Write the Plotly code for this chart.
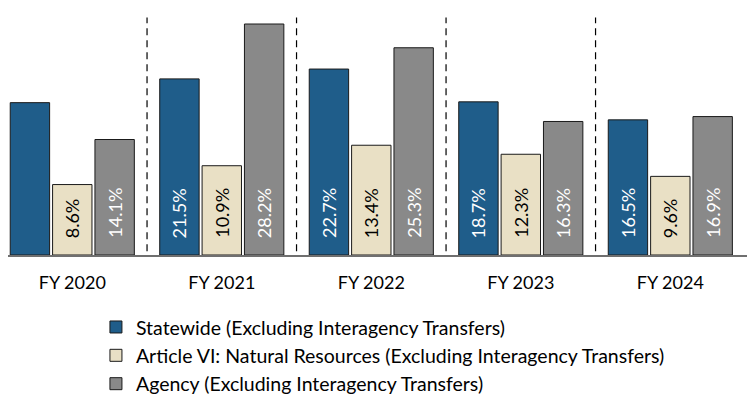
import plotly.graph_objects as go

categories = ["FY 2020", "FY 2021", "FY 2022", "FY 2023", "FY 2024"]
statewide = [18.6, 21.5, 22.7, 18.7, 16.5]
article_vi = [8.6, 10.9, 13.4, 12.3, 9.6]
agency = [14.1, 28.2, 25.3, 16.3, 16.9]
statewide_labels = ["", "21.5%", "22.7%", "18.7%", "16.5%"]
article_vi_labels = ["8.6%", "10.9%", "13.4%", "12.3%", "9.6%"]
agency_labels = ["14.1%", "28.2%", "25.3%", "16.3%", "16.9%"]
series_names = [
    "Statewide (Excluding Interagency Transfers)",
    "Article VI: Natural Resources (Excluding Interagency Transfers)",
    "Agency (Excluding Interagency Transfers)",
]

colors = ["#1F5D8A", "#E9E0C5", "#898989"]
text_colors = ["white", "black", "white"]
FONT = "Lato"

BARGAP = 0.15
fig = go.Figure()
series = [statewide, article_vi, agency]
labels = [statewide_labels, article_vi_labels, agency_labels]
for j, (vals, name) in enumerate(zip(series, series_names)):
    fig.add_trace(go.Bar(
        x=categories, y=vals, name=name,
        marker=dict(color=colors[j], line=dict(color="#1a1a1a", width=1)),
        legendgroup=f"g{j}",
        hoverinfo="skip",
    ))

slot = (1 - BARGAP) / 3
annotations = []
for j in range(3):
    off = (j - 1) * slot
    for i, t in enumerate(labels[j]):
        if not t:
            continue
        annotations.append(dict(
            x=i + off, y=0, xref="x", yref="y", text=t, showarrow=False,
            textangle=-90, yanchor="bottom", xanchor="center", yshift=15,
            font=dict(family=FONT, size=18, color=text_colors[j]),
        ))

shapes = []
for k in range(4):
    shapes.append(dict(
        type="line", xref="x", yref="y", x0=k + 0.5, x1=k + 0.5, y0=-1.0, y1=29.0,
        line=dict(color="black", width=1.2, dash="7px,5px"),
    ))

# page has an 8px body margin, so the figure is sized to fill the rest of the window
fig.update_layout(
    width=748, height=392,
    margin=dict(l=0, r=9, t=7, b=144.5, autoexpand=False),
    plot_bgcolor="white", paper_bgcolor="white",
    barmode="group", bargap=BARGAP, bargroupgap=0.07,
    xaxis=dict(
        type="category", range=[-0.43, 4.513], showgrid=False, automargin=False,
        showline=True, linecolor="#6f6f6f", linewidth=1.5,
        tickfont=dict(family=FONT, size=18, color="black"),
        ticks="", ticklabelstandoff=11,
    ),
    yaxis=dict(range=[0, 29.3], visible=False, showgrid=False, zeroline=False),
    legend=dict(
        orientation="v", x=0.119, y=-0.220, xanchor="left", yanchor="top",
        font=dict(family=FONT, size=19.5, color="black"),
        tracegroupgap=0, itemwidth=30, bgcolor="rgba(0,0,0,0)",
    ),
    annotations=annotations,
    shapes=shapes,
    showlegend=True,
)

fig.write_html("out.html")
